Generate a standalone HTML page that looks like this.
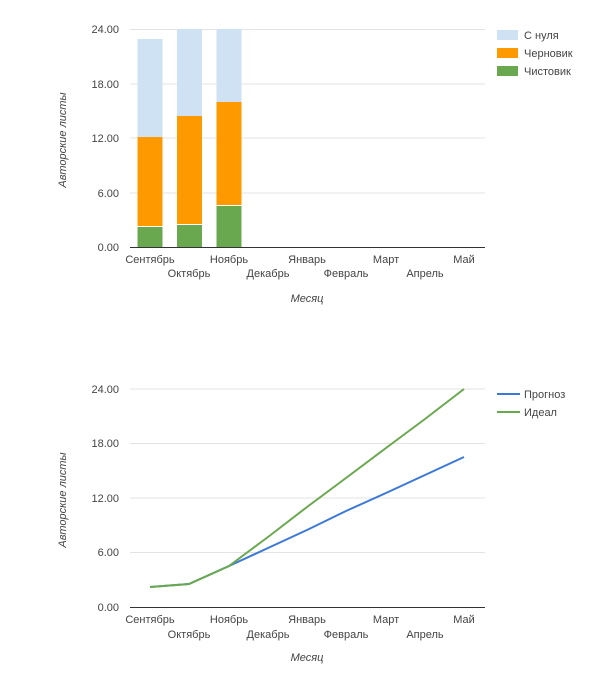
<!DOCTYPE html>
<html><head><meta charset="utf-8"><style>
html,body{margin:0;padding:0;background:#fff;}
svg{display:block;font-family:"Liberation Sans",Arial,sans-serif;}
text{fill:#444;font-size:11px;}
</style></head><body>
<svg width="605" height="683" viewBox="0 0 605 683">
<!-- Chart 1 -->
<g stroke="#e3e3e3" stroke-width="1">
<line x1="130" y1="29.5" x2="485" y2="29.5"/>
<line x1="130" y1="84" x2="485" y2="84"/>
<line x1="130" y1="138" x2="485" y2="138"/>
<line x1="130" y1="193" x2="485" y2="193"/>
</g>
<g text-anchor="end">
<text x="119" y="33">24.00</text>
<text x="119" y="88">18.00</text>
<text x="119" y="142">12.00</text>
<text x="119" y="197">6.00</text>
<text x="119" y="251">0.00</text>
</g>
<!-- bars -->
<rect x="137.5" y="39" width="25" height="98" fill="#cfe2f3"/>
<rect x="137.5" y="137" width="25" height="89" fill="#ff9900"/>
<rect x="137.5" y="227" width="25" height="20" fill="#6aa84f"/>
<rect x="177" y="29" width="25" height="87" fill="#cfe2f3"/>
<rect x="177" y="116" width="25" height="108" fill="#ff9900"/>
<rect x="177" y="225" width="25" height="22" fill="#6aa84f"/>
<rect x="216.5" y="29" width="25" height="73" fill="#cfe2f3"/>
<rect x="216.5" y="102" width="25" height="103" fill="#ff9900"/>
<rect x="216.5" y="206" width="25" height="41" fill="#6aa84f"/>
<line x1="130" y1="247.5" x2="485" y2="247.5" stroke="#333" stroke-width="1"/>
<g text-anchor="middle">
<text x="150" y="263">Сентябрь</text>
<text x="189" y="277">Октябрь</text>
<text x="229" y="263">Ноябрь</text>
<text x="268" y="277">Декабрь</text>
<text x="307" y="263">Январь</text>
<text x="346" y="277">Февраль</text>
<text x="386" y="263">Март</text>
<text x="425" y="277">Апрель</text>
<text x="464" y="263">Май</text>
<text x="307" y="302" font-style="italic">Месяц</text>
<text transform="translate(66,140) rotate(-90)" font-style="italic">Авторские листы</text>
</g>
<rect x="497" y="30" width="21" height="10" fill="#cfe2f3"/>
<rect x="497" y="48" width="21" height="10" fill="#ff9900"/>
<rect x="497" y="66" width="21" height="10" fill="#6aa84f"/>
<text x="524" y="39">С нуля</text>
<text x="524" y="57">Черновик</text>
<text x="524" y="75">Чистовик</text>

<!-- Chart 2 -->
<g stroke="#e3e3e3" stroke-width="1">
<line x1="130" y1="389" x2="485" y2="389"/>
<line x1="130" y1="443.5" x2="485" y2="443.5"/>
<line x1="130" y1="498" x2="485" y2="498"/>
<line x1="130" y1="552.5" x2="485" y2="552.5"/>
</g>
<g text-anchor="end">
<text x="119" y="393">24.00</text>
<text x="119" y="447">18.00</text>
<text x="119" y="502">12.00</text>
<text x="119" y="556">6.00</text>
<text x="119" y="611">0.00</text>
</g>
<line x1="130" y1="607.5" x2="485" y2="607.5" stroke="#333" stroke-width="1"/>
<polyline fill="none" stroke="#3c78d8" stroke-width="2" points="150,587 189,584 229,566 268,548 307,530 346,511 386,493 425,475 464,457"/>
<polyline fill="none" stroke="#6aa84f" stroke-width="2" points="150,587 189,584 229,566 268,537 307,507 346,478 386,448 425,419 464,389"/>
<g text-anchor="middle">
<text x="150" y="623">Сентябрь</text>
<text x="189" y="638">Октябрь</text>
<text x="229" y="623">Ноябрь</text>
<text x="268" y="638">Декабрь</text>
<text x="307" y="623">Январь</text>
<text x="346" y="638">Февраль</text>
<text x="386" y="623">Март</text>
<text x="425" y="638">Апрель</text>
<text x="464" y="623">Май</text>
<text x="307" y="661" font-style="italic">Месяц</text>
<text transform="translate(66,500) rotate(-90)" font-style="italic">Авторские листы</text>
</g>
<line x1="497" y1="394" x2="520" y2="394" stroke="#3c78d8" stroke-width="2"/>
<line x1="497" y1="412" x2="520" y2="412" stroke="#6aa84f" stroke-width="2"/>
<text x="524" y="398">Прогноз</text>
<text x="524" y="416">Идеал</text>
</svg>
</body></html>
